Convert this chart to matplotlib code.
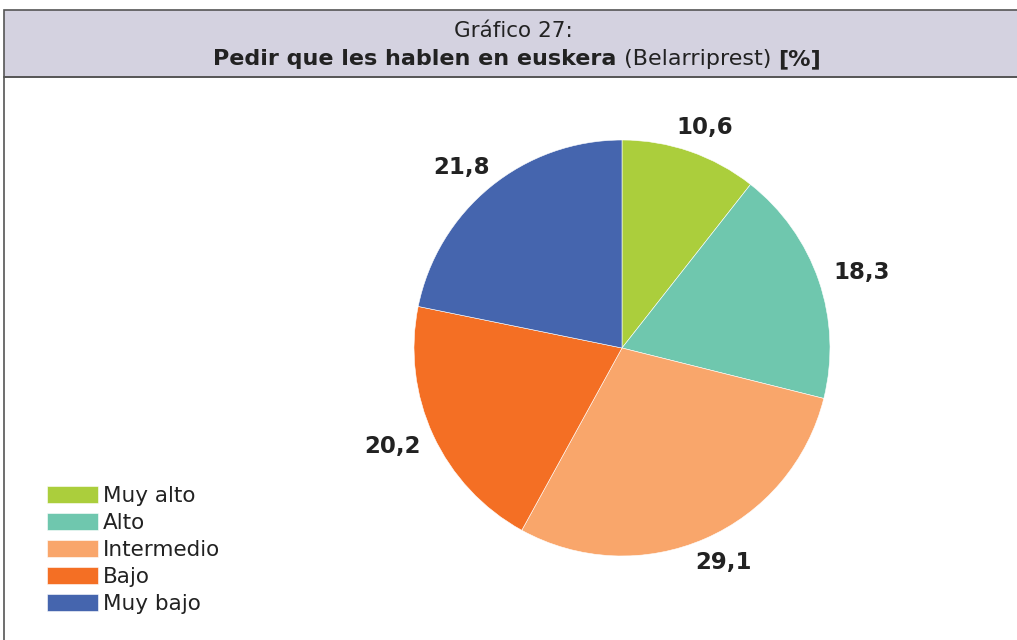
import numpy as np
import matplotlib.pyplot as plt
from matplotlib.patches import Rectangle

categories = ['Muy alto', 'Alto', 'Intermedio', 'Bajo', 'Muy bajo']
values = [10.6, 18.3, 29.1, 20.2, 21.8]
value_labels = ['10,6', '18,3', '29,1', '20,2', '21,8']
colors = ['#abce3c', '#6fc7ae', '#f9a66b', '#f46f24', '#4565ae']

W, H = 1017, 640
fig = plt.figure(figsize=(W / 100, H / 100), dpi=100)
plt.rcParams['font.family'] = ['DejaVu Sans']

def px(x, y):
    # pixel (from top-left) -> figure fraction
    return x / W, 1 - y / H

# header band and body frame
fig.patches.append(Rectangle(px(4, 77), (W + 10) / W, 67 / H, transform=fig.transFigure,
                             facecolor='#d4d2e0', edgecolor='#555555', lw=1.2))
fig.patches.append(Rectangle(px(4, H + 10), (W + 10) / W, (H - 67) / H, transform=fig.transFigure,
                             facecolor='none', edgecolor='#555555', lw=1.2))

fig.text(*px(513, 31), 'Gráfico 27:', ha='center', va='center', fontsize=15.5,
         color='#222222')

# second title line with mixed weights
parts = [('Pedir que les hablen en euskera', 'bold'), (' (Belarriprest) ', 'normal'), ('[%]', 'bold')]
renderer = fig.canvas.get_renderer()
texts = []
for s, w in parts:
    t = fig.text(0, 0, s, fontsize=16, fontweight=w, va='center', color='#222222')
    texts.append(t)
widths = [t.get_window_extent(renderer).width for t in texts]
x0 = 517 - sum(widths) / 2
yc = px(0, 59)[1]
for t, w in zip(texts, widths):
    t.set_position((x0 / W, yc))
    x0 += w

# pie
R = 208
cx, cy = 622, 348
ax = fig.add_axes([(cx - R) / W, (H - cy - R) / H, 2 * R / W, 2 * R / H])
wedges, _ = ax.pie(values, colors=colors, startangle=90, counterclock=False,
                   wedgeprops=dict(edgecolor='white', linewidth=0.4))
ax.set_xlim(-1, 1)
ax.set_ylim(-1, 1)
ax.set_aspect('auto')

# value labels outside the slices, box pushed out from the edge
cum = np.cumsum([0] + values[:-1])
total = sum(values)
gap = 14 / R
for c, v, lab in zip(cum, values, value_labels):
    ang = np.deg2rad(90 - (c + v / 2) / total * 360)
    ux, uy = np.cos(ang), np.sin(ang)
    t = ax.text(0, 0, lab, ha='center', va='center', fontsize=16.5, fontweight='bold',
                color='#222222')
    bb = t.get_window_extent(renderer)
    hw, hh = bb.width / 2 / R, bb.height / 2 / R
    t.set_position(((1 + gap) * ux + hw * 1.1 * ux, (1 + gap) * uy + hh * uy))

leg = fig.legend(wedges, categories, loc='upper left', bbox_to_anchor=px(38, 477),
                 frameon=False, fontsize=15.5, handlelength=2.4, handleheight=0.85,
                 handletextpad=0.2, labelspacing=0.33, borderaxespad=0)
for t in leg.get_texts():
    t.set_color('#222222')

fig.savefig('out.png', dpi=100)
